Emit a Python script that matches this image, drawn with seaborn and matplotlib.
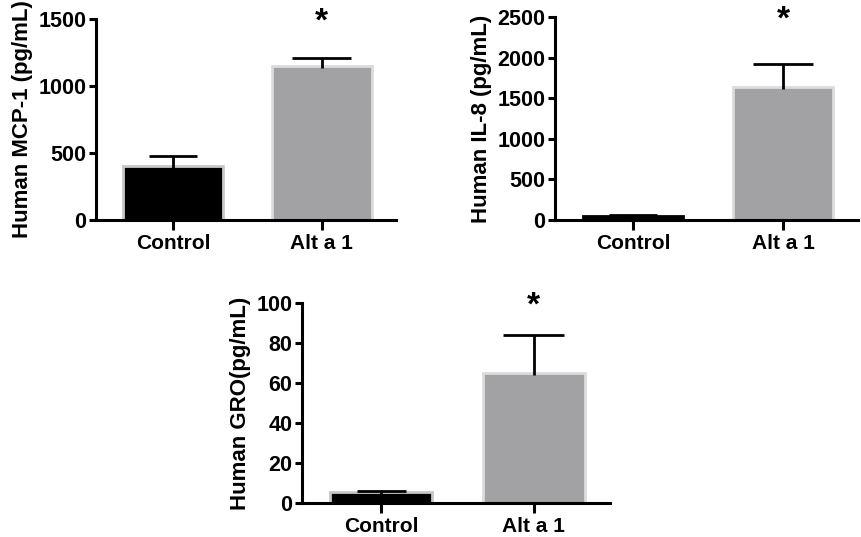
import numpy as np
import pandas as pd
import matplotlib
matplotlib.use("Agg")
import matplotlib.pyplot as plt
import seaborn as sns

# Data (mean and upper error)
groups = ["Control", "Alt a 1"]
mcp1_mean = [400, 1150]
mcp1_err = [78, 62]
il8_mean = [55, 1640]
il8_err = [3, 280]
gro_mean = [5.8, 65]
gro_err = [0.5, 19]

ylabels = ["Human MCP-1 (pg/mL)", "Human IL-8 (pg/mL)", "Human GRO(pg/mL)"]
ylims = [1500, 2500, 100]
yticks = [[0, 500, 1000, 1500], [0, 500, 1000, 1500, 2000, 2500],
          [0, 20, 40, 60, 80, 100]]

sns.set_style("ticks", {"axes.edgecolor": "black", "text.color": "black",
                        "xtick.color": "black", "ytick.color": "black",
                        "axes.labelcolor": "black"})
plt.rcParams['font.family'] = ['Liberation Sans', 'DejaVu Sans']
plt.rcParams['font.weight'] = 'bold'

bar_colors = ["#000000", "#a2a1a6"]
edge_colors = ["#c8c8c8", "#dcdcdc"]
cap_half = [0.16, 0.2]

fig = plt.figure(figsize=(8.61, 5.37), dpi=100)
axes = [
    fig.add_axes([0.1115, 0.5903, 0.3485, 0.3743]),
    fig.add_axes([0.6446, 0.5903, 0.3519, 0.3780]),
    fig.add_axes([0.3508, 0.0627, 0.3577, 0.3736]),
]

panels = [(mcp1_mean, mcp1_err), (il8_mean, il8_err), (gro_mean, gro_err)]

for k, (ax, (means, errs), ylab, ytop, yt) in enumerate(
        zip(axes, panels, ylabels, ylims, yticks)):
    df = pd.DataFrame({"group": groups, "value": means})
    sns.barplot(data=df, x="group", y="value", hue="group", palette=bar_colors,
                width=0.67, errorbar=None, legend=False, ax=ax)
    for patch, ec in zip(ax.patches, edge_colors):
        patch.set_edgecolor(ec)
        patch.set_linewidth(2)
    if k == 1:
        # tiny control bar looks solid black in the original
        ax.patches[0].set_edgecolor("black")
    # upper-only error bars, GraphPad style
    for i, (m, e) in enumerate(zip(means, errs)):
        ax.vlines(i, m - ytop * 0.01, m + e, color='black', lw=2, zorder=5)
        ax.hlines(m + e, i - cap_half[i], i + cap_half[i], color='black',
                  lw=2, zorder=5)
    # significance star above the treated bar
    ax.text(1, ytop * 0.985, "*", ha='center', va='center', fontsize=24,
            fontweight='bold', clip_on=False)

    ax.set_xlim(-0.52, 1.5)
    ax.set_ylim(0, ytop)
    ax.set_yticks(yt)
    ax.set_xlabel("")
    ax.set_ylabel(ylab, fontsize=16, fontweight='bold', labelpad=4)
    sns.despine(ax=ax)
    for sp in ["left", "bottom"]:
        ax.spines[sp].set_linewidth(2.2)
    ax.tick_params(axis='y', labelsize=15.5, width=2.2, length=5, pad=2)
    ax.tick_params(axis='x', labelsize=15, width=2.2, length=7, pad=3)
    for lab in ax.get_xticklabels() + ax.get_yticklabels():
        lab.set_fontweight('bold')

fig.savefig("out.png", dpi=100)
plt.close(fig)
